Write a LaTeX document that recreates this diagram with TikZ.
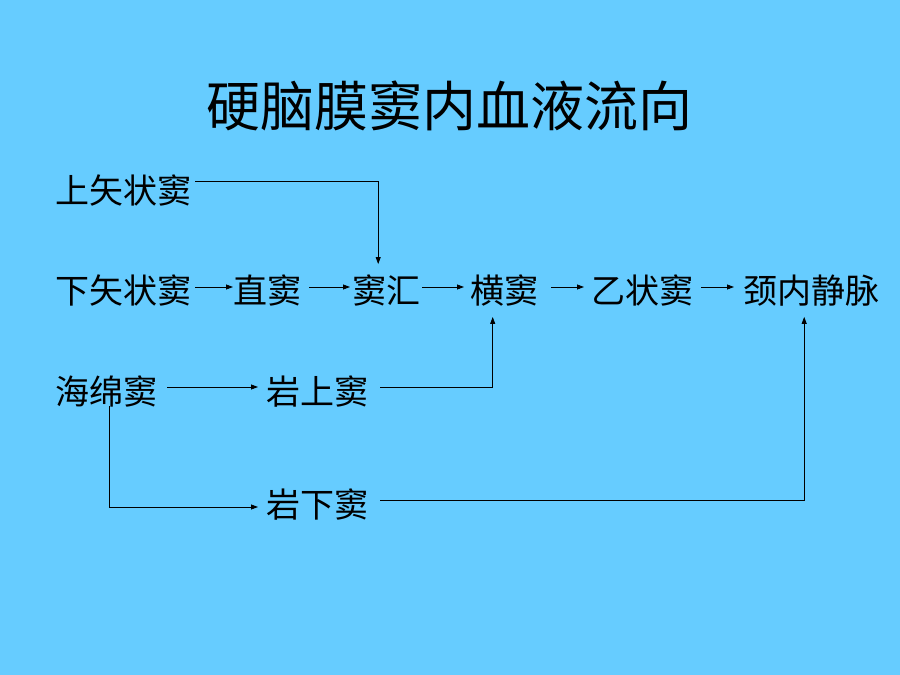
\documentclass[tikz,border=0pt]{standalone}
\usepackage{fontspec}
\setmainfont{Noto Sans CJK SC}
\usetikzlibrary{arrows.meta}
\definecolor{bgblue}{HTML}{66CCFF}
\begin{document}
\begin{tikzpicture}[x=1pt,y=-1pt,
  lbl/.style={anchor=west,inner sep=0pt,font=\fontsize{34}{34}\selectfont},
  ttl/.style={inner sep=0pt,font=\fontsize{54}{54}\selectfont},
  conn/.style={line width=0.8pt,-{Triangle[length=7pt,width=5pt]}}]
\fill[bgblue] (0,0) rectangle (900,675);
\useasboundingbox (0,0) rectangle (900,675);
\node[ttl] (title) at (449,106) {硬脑膜窦内血液流向};
% row 1
\node[lbl] (ssz) at (55,191) {上矢状窦};
% row 2
\node[lbl] (xsz) at (55,291) {下矢状窦};
\node[lbl] (zd)  at (233,291) {直窦};
\node[lbl] (dh)  at (352,291) {窦汇};
\node[lbl] (hd)  at (470,291) {横窦};
\node[lbl] (yzd) at (591,291) {乙状窦};
\node[lbl] (jn)  at (743,291) {颈内静脉};
% row 3
\node[lbl] (hmd) at (55,392) {海绵窦};
\node[lbl] (ysd) at (266,392) {岩上窦};
% row 4
\node[lbl] (yxd) at (266,505) {岩下窦};
% connectors
\draw[conn] ([xshift=4pt,yshift=10pt]ssz.east) -| ([xshift=-8pt,yshift=11pt]dh.north);
\draw[conn] ([xshift=4pt,yshift=4pt]xsz.east) -- ([yshift=4pt]zd.west);
\draw[conn] ([xshift=8pt,yshift=4pt]zd.east) -- ([xshift=-2pt,yshift=4pt]dh.west);
\draw[conn] ([xshift=2pt,yshift=4pt]dh.east) -- ([xshift=-6pt,yshift=4pt]hd.west);
\draw[conn] ([xshift=13pt,yshift=4pt]hd.east) -- ([xshift=-7pt,yshift=4pt]yzd.west);
\draw[conn] ([xshift=8pt,yshift=4pt]yzd.east) -- ([xshift=-9pt,yshift=4pt]jn.west);
\draw[conn] ([xshift=10pt,yshift=5pt]hmd.east) -- ([xshift=-8pt,yshift=5pt]ysd.west);
\draw[conn] ([xshift=12pt,yshift=5pt]ysd.east) -| ([xshift=-11.5pt,yshift=-10pt]hd.south);
\draw[conn] ([xshift=3pt,yshift=2pt]hmd.south) |- ([xshift=-8pt,yshift=-2pt]yxd.west);
\draw[conn] ([xshift=12pt,yshift=5pt]yxd.east) -| ([xshift=-7pt,yshift=-10pt]jn.south);
\end{tikzpicture}
\end{document}
